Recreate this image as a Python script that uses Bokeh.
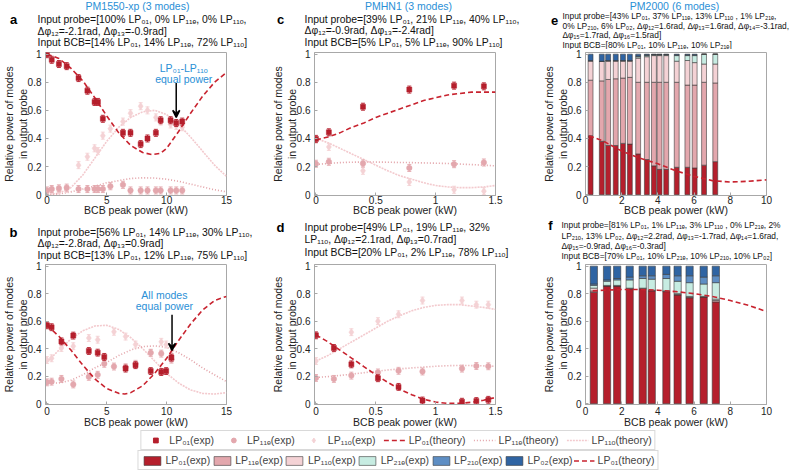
from bokeh.plotting import figure
from bokeh.layouts import row, column
from bokeh.models import (Range1d, FixedTicker, NumeralTickFormatter, Label, Arrow, VeeHead,
                          ColumnDataSource, Legend, LegendItem)
from bokeh.embed import file_html
from bokeh.resources import INLINE

FONT = "Liberation Sans"
GRAY = "#a8a8a8"
C01 = "#b51f2c"
C11E = "#e3a7ad"
C11O = "#f4d2d5"
C21E = "#c7ece2"
C21O = "#5e8ec4"
C02 = "#2f64a3"
BLUE = "#2a8fd6"
ERR = 0.025

Y_TICKS = [0, 0.2, 0.4, 0.6, 0.8, 1]

# ---------------- panel a ----------------
A01_X = [0, 0.4, 1.0, 1.65, 2.64, 3.38, 3.98, 4.26, 4.67, 6.35, 6.98, 7.83, 8.4, 9.1, 9.5, 10.33, 10.8, 11.3]
A01_Y = [1.0, 0.96, 0.93, 0.915, 0.83, 0.74, 0.66, 0.66, 0.54, 0.44, 0.44, 0.36, 0.40, 0.44, 0.53, 0.53, 0.51, 0.52]
A11E_X = [0, 0.4, 1.0, 1.65, 2.64, 3.38, 3.98, 4.26, 4.67, 5.3, 6.35, 6.98, 7.83, 8.4, 9.1, 9.5, 10.33, 10.8, 11.3]
A11E_Y = [0.03, 0.04, 0.045, 0.05, 0.04, 0.04, 0.04, 0.04, 0.04, 0.06, 0.07, 0.03, 0.03, 0.03, 0.03, 0.03, 0.03, 0.03, 0.03]
A11O_X = [0, 0.4, 1.0, 1.65, 2.64, 3.38, 3.98, 4.26, 4.67, 5.3, 6.35, 6.98, 7.83, 8.4, 9.1, 9.5, 10.33, 10.8, 11.3]
A11O_Y = [0.02, 0.03, 0.03, 0.04, 0.21, 0.27, 0.33, 0.31, 0.42, 0.47, 0.52, 0.58, 0.63, 0.60, 0.55, 0.52, 0.50, 0.49, 0.48]
A_TH01_X = [0, 1, 2, 3, 4, 5, 6, 7, 8, 8.8, 9.5, 10, 11, 12, 13, 14, 15]
A_TH01_Y = [1.0, 0.97, 0.90, 0.81, 0.69, 0.56, 0.44, 0.35, 0.30, 0.285, 0.295, 0.33, 0.45, 0.58, 0.70, 0.80, 0.87]
A_TH_X = [0, 1, 2, 3, 4, 5, 6, 7, 8, 9, 10, 11, 12, 13, 14, 15]
A_TH11E_Y = [0, 0.005, 0.02, 0.04, 0.06, 0.085, 0.10, 0.115, 0.12, 0.118, 0.11, 0.095, 0.075, 0.055, 0.035, 0.02]
A_TH11O_Y = [0, 0.01, 0.05, 0.14, 0.26, 0.38, 0.48, 0.55, 0.59, 0.60, 0.57, 0.50, 0.41, 0.31, 0.21, 0.13]

# ---------------- panel b ----------------
B01_X = [0, 0.39, 1.21, 2.2, 3.5, 4.24, 4.79, 6.57, 7.4, 8.67, 9.55, 9.96, 10.4]
B01_Y = [0.57, 0.556, 0.453, 0.495, 0.383, 0.371, 0.34, 0.255, 0.28, 0.237, 0.23, 0.237, 0.335]
B11E_X = [0, 0.39, 1.21, 2.2, 3.5, 4.24, 4.79, 5.6, 6.57, 7.4, 8.67, 9.55, 10.4]
B11E_Y = [0.155, 0.16, 0.18, 0.14, 0.195, 0.21, 0.29, 0.27, 0.265, 0.29, 0.37, 0.364, 0.32]
B11O_X = [0, 0.39, 1.21, 2.2, 3.5, 4.24, 5.6, 6.57, 7.4, 8.67, 9.55, 9.96, 10.4]
B11O_Y = [0.317, 0.33, 0.405, 0.418, 0.477, 0.465, 0.523, 0.488, 0.43, 0.37, 0.45, 0.43, 0.36]
B_TH01_X = [0, 1, 2, 3, 4, 5, 6, 6.5, 7, 8, 9, 10, 11, 12, 13, 14, 15]
B_TH01_Y = [0.57, 0.49, 0.39, 0.28, 0.18, 0.11, 0.075, 0.07, 0.08, 0.13, 0.22, 0.33, 0.46, 0.58, 0.68, 0.75, 0.78]
B_TH_X = [0, 1, 2, 3, 4, 5, 6, 7, 8, 9, 10, 11, 12, 13, 14, 15]
B_TH11E_Y = [0.15, 0.15, 0.17, 0.21, 0.26, 0.30, 0.35, 0.39, 0.415, 0.42, 0.41, 0.37, 0.32, 0.26, 0.21, 0.16]
B_TH11O_Y = [0.30, 0.39, 0.47, 0.53, 0.565, 0.57, 0.54, 0.48, 0.40, 0.31, 0.22, 0.15, 0.10, 0.075, 0.07, 0.08]

# ---------------- panel c ----------------
C_X = [0, 0.108, 0.393, 0.78, 1.154, 1.403]
C01_Y = [0.397, 0.444, 0.626, 0.748, 0.776, 0.771]
C11E_Y = [0.22, 0.234, 0.222, 0.19, 0.217, 0.229]
C11O_Y = [0.39, 0.34, 0.17, 0.09, 0.035, 0.025]
C_TH_X = [0, 0.1, 0.2, 0.3, 0.4, 0.5, 0.6, 0.7, 0.8, 0.9, 1.0, 1.1, 1.2, 1.3, 1.4, 1.5]
C_TH01_Y = [0.39, 0.41, 0.44, 0.48, 0.51, 0.55, 0.58, 0.61, 0.64, 0.67, 0.69, 0.71, 0.72, 0.73, 0.73, 0.73]
C_TH11E_Y = [0.215, 0.222, 0.228, 0.231, 0.232, 0.232, 0.231, 0.229, 0.228, 0.226, 0.224, 0.222, 0.218, 0.214, 0.21, 0.205]
C_TH11O_Y = [0.40, 0.37, 0.33, 0.29, 0.25, 0.21, 0.17, 0.135, 0.11, 0.085, 0.065, 0.055, 0.05, 0.05, 0.055, 0.065]

# ---------------- panel d ----------------
D_X = [0, 0.15, 0.296, 0.518, 0.69, 0.89, 1.22, 1.34, 1.44]
D01_Y = [0.497, 0.405, 0.286, 0.185, 0.122, 0.023, 0.014, 0.019, 0.028]
D11E_Y = [0.187, 0.18, 0.204, 0.227, 0.239, 0.234, 0.255, 0.274, 0.272]
D11O_Y = [0.31, 0.40, 0.52, 0.60, 0.65, 0.75, 0.75, 0.72, 0.72]
D_TH_X = [0, 0.1, 0.2, 0.3, 0.4, 0.5, 0.6, 0.7, 0.8, 0.9, 1.0, 1.1, 1.2, 1.3, 1.4, 1.5]
D_TH01_Y = [0.50, 0.45, 0.39, 0.33, 0.27, 0.21, 0.155, 0.105, 0.065, 0.032, 0.012, 0.002, 0.002, 0.01, 0.025, 0.045]
D_TH11E_Y = [0.19, 0.197, 0.205, 0.215, 0.225, 0.235, 0.245, 0.253, 0.26, 0.266, 0.272, 0.276, 0.278, 0.277, 0.275, 0.272]
D_TH11O_Y = [0.31, 0.35, 0.40, 0.45, 0.50, 0.55, 0.60, 0.64, 0.675, 0.70, 0.715, 0.72, 0.72, 0.71, 0.70, 0.685]

# ---------------- panel e ----------------
E_X = [0.28, 0.9, 1.25, 1.67, 2.07, 2.45, 2.91, 3.39, 3.78, 4.09, 4.46, 5.04, 5.63, 6.03, 6.55, 7.17]
E01 = [0.42, 0.38, 0.35, 0.35, 0.365, 0.36, 0.29, 0.25, 0.205, 0.18, 0.18, 0.195, 0.195, 0.19, 0.21, 0.235]
E11E = [0.395, 0.43, 0.47, 0.475, 0.465, 0.475, 0.51, 0.55, 0.595, 0.62, 0.62, 0.605, 0.585, 0.59, 0.59, 0.56]
E11O = [0.137, 0.138, 0.132, 0.127, 0.122, 0.117, 0.172, 0.182, 0.19, 0.19, 0.19, 0.15, 0.175, 0.16, 0.13, 0.135]
E21E = [0, 0, 0, 0, 0, 0, 0.01, 0.008, 0.005, 0.005, 0.005, 0.04, 0.035, 0.05, 0.07, 0.07]
E21O = [0.003, 0.002, 0.003, 0.003, 0.003, 0.003, 0.005, 0.005, 0.003, 0.003, 0.003, 0.005, 0.005, 0.005, 0, 0]
E02 = [0.045, 0.05, 0.045, 0.045, 0.045, 0.045, 0.013, 0.005, 0.002, 0.002, 0.002, 0.005, 0.005, 0.005, 0, 0]
E_TH_X = [0.2, 1, 2, 3, 4, 5, 6, 7, 8, 9, 10]
E_TH01_Y = [0.42, 0.38, 0.31, 0.26, 0.22, 0.17, 0.13, 0.10, 0.09, 0.095, 0.105]

# ---------------- panel f ----------------
F_X = [0.46, 1.19, 1.75, 2.44, 3.16, 3.66, 4.47, 5.09, 5.75, 6.53, 7.2]
F01 = [0.81, 0.855, 0.855, 0.835, 0.835, 0.82, 0.815, 0.79, 0.77, 0.775, 0.74]
F11E = [0.01, 0.003, 0.003, 0.003, 0.003, 0.003, 0.003, 0.005, 0.005, 0.003, 0.01]
F11O = [0.02, 0.002, 0.002, 0.002, 0.002, 0.002, 0.002, 0.005, 0.005, 0.002, 0.01]
F21E = [0.02, 0.03, 0.04, 0.06, 0.07, 0.08, 0.09, 0.09, 0.10, 0.09, 0.12]
F21O = [0.01, 0.01, 0.01, 0.02, 0.02, 0.025, 0.03, 0.04, 0.05, 0.05, 0.05]
F02 = [0.13, 0.10, 0.09, 0.08, 0.07, 0.07, 0.06, 0.07, 0.07, 0.08, 0.07]
F_TH_X = [0.4, 1, 2, 3, 4, 5, 6, 7, 8, 9, 10]
F_TH01_Y = [0.82, 0.825, 0.83, 0.83, 0.825, 0.815, 0.80, 0.78, 0.75, 0.715, 0.67]

# ---------------- texts ----------------
TXT_A = ["Input probe=[100% LP₀₁, 0% LP₁₁ₑ, 0% LP₁₁ₒ,", "Δφ₁₂=-2.1rad, Δφ₁₃=-0.9rad]",
         "Input BCB=[14% LP₀₁, 14% LP₁₁ₑ, 72% LP₁₁ₒ]"]
TXT_B = ["Input probe=[56% LP₀₁, 14% LP₁₁ₑ, 30% LP₁₁ₒ,", "Δφ₁₂=-2.8rad, Δφ₁₃=0.9rad]",
         "Input BCB=[13% LP₀₁, 12% LP₁₁ₑ, 75% LP₁₁ₒ]"]
TXT_C = ["Input probe=[39% LP₀₁, 21% LP₁₁ₑ, 40% LP₁₁ₒ,", "Δφ₁₂=-0.9rad, Δφ₁₃=-2.4rad]",
         "Input BCB=[5% LP₀₁, 5% LP₁₁ₑ, 90% LP₁₁ₒ]"]
TXT_D = ["Input probe=[49% LP₀₁, 19% LP₁₁ₑ, 32%", "LP₁₁ₒ, Δφ₁₂=2.1rad, Δφ₁₃=0.7rad]",
         "Input BCB=[20% LP₀₁, 2% LP₁₁ₑ, 78% LP₁₁ₒ]"]
TXT_E = ["Input probe=[43% LP₀₁, 37% LP₁₁ₑ, 13% LP₁₁ₒ , 1% LP₂₁ₑ,",
         "0% LP₂₁ₒ, 6% LP₀₂, Δφ₁₂=1.6rad, Δφ₁₃=1.6rad, Δφ₁₄=-3.1rad,",
         "Δφ₁₅=1.7rad, Δφ₁₆=1.5rad]", "Input BCB=[80% LP₀₁, 10% LP₁₁ₑ, 10% LP₂₁ₑ]"]
TXT_F = ["Input probe=[81% LP₀₁, 1% LP₁₁ₑ, 3% LP₁₁ₒ , 0% LP₂₁ₑ, 2%",
         "LP₂₁ₒ, 13% LP₀₂, Δφ₁₂=2.2rad, Δφ₁₃=-1.7rad, Δφ₁₄=1.6rad,",
         "Δφ₁₅=-0.9rad, Δφ₁₆=-0.3rad]", "Input BCB=[70% LP₀₁, 10% LP₂₁ₑ, 10% LP₂₁ₒ, 10% LP₀₂]"]
TITLES = ["PM1550-xp (3 modes)", "PMHN1 (3 modes)", "PM2000 (6 modes)"]
XLABEL = "BCB peak power (kW)"
YLABEL = "Relative power of modes\nin output probe"


def make_fig(w, h, left, right, bottom, xr, xticks, tick_so, label_so):
    p = figure(width=w, height=h, min_border_left=left, min_border_right=right,
               min_border_top=3, min_border_bottom=bottom,
               x_range=Range1d(*xr), y_range=Range1d(-0.006, 1.012),
               output_backend="svg", toolbar_location=None, tools="")
    for ax in (p.xaxis, p.yaxis):
        ax.axis_line_color = GRAY
        ax.major_tick_line_color = GRAY
        ax.major_tick_in = 3
        ax.major_tick_out = 0
        ax.minor_tick_line_color = None
        ax.major_label_text_font = FONT
        ax.major_label_text_font_size = "10px"
        ax.major_label_text_color = "#222222"
        ax.formatter = NumeralTickFormatter(format="0.[0]")
        ax.axis_label_text_font = FONT
        ax.axis_label_text_font_size = "10.5px"
        ax.axis_label_text_font_style = "normal"
        ax.axis_label_text_color = "#222222"
    p.xaxis.ticker = FixedTicker(ticks=xticks)
    p.yaxis.ticker = FixedTicker(ticks=Y_TICKS)
    p.xaxis.major_label_standoff = tick_so
    p.yaxis.major_label_standoff = 4
    p.xaxis.axis_label = XLABEL
    p.xaxis.axis_label_standoff = label_so
    p.yaxis.axis_label = YLABEL
    p.yaxis.axis_label_standoff = -4
    p.yaxis.axis_label_text_line_height = 1.1
    p.xgrid.visible = False
    p.ygrid.visible = False
    p.outline_line_color = GRAY
    p.background_fill_color = "white"
    p.border_fill_color = "white"
    return p


def header_fig(w, h, title, title_x, letter, letter_xy, lines, line_x, line_ys, size):
    p = figure(width=w, height=h, min_border=0, x_range=Range1d(0, w), y_range=Range1d(h, 0),
               x_axis_type=None, y_axis_type=None, output_backend="svg",
               toolbar_location=None, tools="")
    p.outline_line_color = None
    p.xgrid.visible = False
    p.ygrid.visible = False
    if title:
        p.add_layout(Label(x=title_x, y=5.5, text=title, text_font=FONT, text_font_size="10.5px",
                           text_color=BLUE, text_align="center", text_baseline="middle"))
    p.add_layout(Label(x=letter_xy[0], y=letter_xy[1], text=letter, text_font=FONT,
                       text_font_size="13px", text_font_style="bold", text_color="#000000",
                       text_align="center", text_baseline="middle"))
    for t, y in zip(lines, line_ys):
        p.add_layout(Label(x=line_x, y=y, text=t, text_font=FONT, text_font_size=size,
                           text_color="#111111", text_align="left", text_baseline="middle"))
    return p


def exp_points(p, x, y, marker, color, size):
    src = ColumnDataSource(dict(x=x, y=y, lo=[v - ERR for v in y], hi=[v + ERR for v in y]))
    p.segment(x0="x", y0="lo", x1="x", y1="hi", source=src, line_color=color, line_width=0.9)
    p.scatter(x="x", y="lo", marker="dash", size=4, line_color=color, line_width=0.9, source=src)
    p.scatter(x="x", y="hi", marker="dash", size=4, line_color=color, line_width=0.9, source=src)
    p.scatter(x="x", y="y", marker=marker, size=size, fill_color=color, line_color=color,
              line_width=0.5, source=src)


TH_STYLE = {"01": ("#c8232f", "5 3"), "11e": ("#e2a0a6", "1 2"), "11o": ("#f3cace", "2 1")}


def theory(p, x, y, kind):
    color, dash = TH_STYLE[kind]
    return p.line(x, y, line_color=color, line_width=1.6, line_dash=dash)


def three_mode(p, d11o, d11e, d01, th11o, th11e, th01):
    theory(p, th11o[0], th11o[1], "11o")
    theory(p, th11e[0], th11e[1], "11e")
    exp_points(p, d11o[0], d11o[1], "diamond", C11O, 7.5)
    exp_points(p, d11e[0], d11e[1], "circle", C11E, 5.5)
    theory(p, th01[0], th01[1], "01")
    exp_points(p, d01[0], d01[1], "square", C01, 5)


def blue_note(p, x, ys, lines):
    for t, y in zip(lines, ys):
        p.add_layout(Label(x=x, y=y, text=t, text_font=FONT, text_font_size="10.5px",
                           text_color=BLUE, text_align="center", text_baseline="middle"))


def arrow(p, x, y0, y1):
    p.add_layout(Arrow(end=VeeHead(size=7, line_color="black", fill_color="black", line_width=1.5),
                       x_start=x, y_start=y0, x_end=x, y_end=y1, line_color="black", line_width=1.5))


# ---------- headers (row 1: y 0..49, row 2: y 218..261) ----------
ha = header_fig(262, 49, TITLES[0], 137, "a", (13, 19), TXT_A, 37, [19, 30.5, 42], "10.4px")
hc = header_fig(261, 49, TITLES[1], 146, "c", (18, 19), TXT_C, 42, [19, 30, 42], "10.4px")
he = header_fig(273, 49, TITLES[2], 151, "e", (31, 20), TXT_E, 39, [15, 25, 34.3, 44], "8.4px")
hb = header_fig(262, 43, None, 0, "b", (13, 14), TXT_B, 37, [14, 25, 36.7], "10.4px")
hd = header_fig(261, 43, None, 0, "d", (18, 9.3), TXT_D, 42, [9.3, 21.3, 33.7], "10.4px")
hf = header_fig(273, 43, None, 0, "f", (27, 7), TXT_F, 38, [6.7, 17.3, 27, 37.5], "8.4px")

# ---------- a ----------
pa = make_fig(262, 169, 43, 36, 21, (-0.12, 15), [0, 5, 10, 15], 0, -3)
three_mode(pa, (A11O_X, A11O_Y), (A11E_X, A11E_Y), (A01_X, A01_Y),
           (A_TH_X, A_TH11O_Y), (A_TH_X, A_TH11E_Y), (A_TH01_X, A_TH01_Y))
blue_note(pa, 11.43, [0.899, 0.826], ["LP₀₁-LP₁₁ₒ", "equal power"])
arrow(pa, 10.8, 0.795, 0.55)

# ---------- b ----------
pb = make_fig(262, 169, 43, 36, 23, (-0.12, 15), [0, 5, 10, 15], 2, -2)
three_mode(pb, (B11O_X, B11O_Y), (B11E_X, B11E_Y), (B01_X, B01_Y),
           (B_TH_X, B_TH11O_Y), (B_TH_X, B_TH11E_Y), (B_TH01_X, B_TH01_Y))
blue_note(pb, 9.81, [0.793, 0.709], ["All modes", "equal power"])
arrow(pb, 10.45, 0.646, 0.388)

# ---------- c ----------
pc = make_fig(261, 169, 52, 28, 21, (-0.012, 1.5), [0, 0.5, 1, 1.5], 0, -3)
three_mode(pc, (C_X, C11O_Y), (C_X, C11E_Y), (C_X, C01_Y),
           (C_TH_X, C_TH11O_Y), (C_TH_X, C_TH11E_Y), (C_TH_X, C_TH01_Y))

# ---------- d ----------
pd_ = make_fig(261, 169, 52, 28, 23, (-0.012, 1.5), [0, 0.5, 1, 1.5], 2, -2)
three_mode(pd_, (D_X, D11O_Y), (D_X, D11E_Y), (D_X, D01_Y),
           (D_TH_X, D_TH11O_Y), (D_TH_X, D_TH11E_Y), (D_TH_X, D_TH01_Y))


# ---------- e / f ----------
def stacked(p, xs, parts, width, th_x, th_y):
    names = ["m01", "m11e", "m11o", "m21e", "m21o", "m02"]
    src = ColumnDataSource(dict(x=xs, **{n: v for n, v in zip(names, parts)}))
    p.vbar_stack(names, x="x", width=width, source=src,
                 color=[C01, C11E, C11O, C21E, C21O, C02],
                 line_color="#3c3c3c", line_width=0.6)
    theory(p, th_x, th_y, "01")


pe = make_fig(273, 169, 62, 30, 21, (0, 10), [0, 2, 4, 6, 8, 10], 0, -3)
stacked(pe, E_X, [E01, E11E, E11O, E21E, E21O, E02], 0.27, E_TH_X, E_TH01_Y)

pf = make_fig(273, 169, 62, 30, 23, (0, 10), [0, 2, 4, 6, 8, 10], 2, -2)
stacked(pf, F_X, [F01, F11E, F11O, F21E, F21O, F02], 0.4, F_TH_X, F_TH01_Y)

# ---------- legend strip (sample glyphs sit outside the visible range) ----------
LEG1 = ["LP₀₁(exp)", "LP₁₁ₑ(exp)", "LP₁₁ₒ(exp)", "LP₀₁(theory)", "LP₁₁ₑ(theory)", "LP₁₁ₒ(theory)"]
LEG2 = ["LP₀₁(exp)", "LP₁₁ₑ(exp)", "LP₁₁ₒ(exp)", "LP₂₁ₑ(exp)", "LP₂₁ₒ(exp)", "LP₀₂(exp)", "LP₀₁(theory)"]
HIDDEN_X = [-10, -9]
HIDDEN_Y = [-10, -10]

pl = figure(width=796, height=40, min_border=0, x_range=Range1d(0, 1), y_range=Range1d(0, 1),
            x_axis_type=None, y_axis_type=None, output_backend="svg", toolbar_location=None, tools="")
pl.outline_line_color = None
pl.xgrid.visible = False
pl.ygrid.visible = False
r1 = [
    pl.scatter(x=HIDDEN_X, y=HIDDEN_Y, marker="square", size=6, fill_color=C01, line_color=C01),
    pl.scatter(x=HIDDEN_X, y=HIDDEN_Y, marker="circle", size=6, fill_color=C11E, line_color=C11E),
    pl.scatter(x=HIDDEN_X, y=HIDDEN_Y, marker="diamond", size=8, fill_color=C11O, line_color=C11O),
    theory(pl, HIDDEN_X, HIDDEN_Y, "01"),
    theory(pl, HIDDEN_X, HIDDEN_Y, "11e"),
    theory(pl, HIDDEN_X, HIDDEN_Y, "11o"),
]
r2 = [pl.vbar(x=HIDDEN_X, top=HIDDEN_Y, width=1, fill_color=c, line_color="#3c3c3c", line_width=0.6)
      for c in [C01, C11E, C11O, C21E, C21O, C02]]
r2.append(theory(pl, HIDDEN_X, HIDDEN_Y, "01"))

common = dict(orientation="horizontal", margin=0, padding=3, label_text_font=FONT,
              label_text_font_size="10.5px", label_height=12, border_line_color="#b4b4b4",
              background_fill_color="white", background_fill_alpha=1)
leg1 = Legend(items=[LegendItem(label=t, renderers=[r]) for t, r in zip(LEG1, r1)],
              location="top_center", spacing=8, glyph_width=22, glyph_height=12,
              label_standoff=3, **common)
leg2 = Legend(items=[LegendItem(label=t, renderers=[r]) for t, r in zip(LEG2, r2)],
              location="bottom_center", spacing=1, glyph_width=21, glyph_height=11,
              label_standoff=3, **common)
pl.add_layout(leg1, "center")
pl.add_layout(leg2, "center")

layout = column(row(ha, hc, he), row(pa, pc, pe), row(hb, hd, hf), row(pb, pd_, pf), pl)
open("out.html", "w", encoding="utf-8").write(file_html(layout, INLINE))
